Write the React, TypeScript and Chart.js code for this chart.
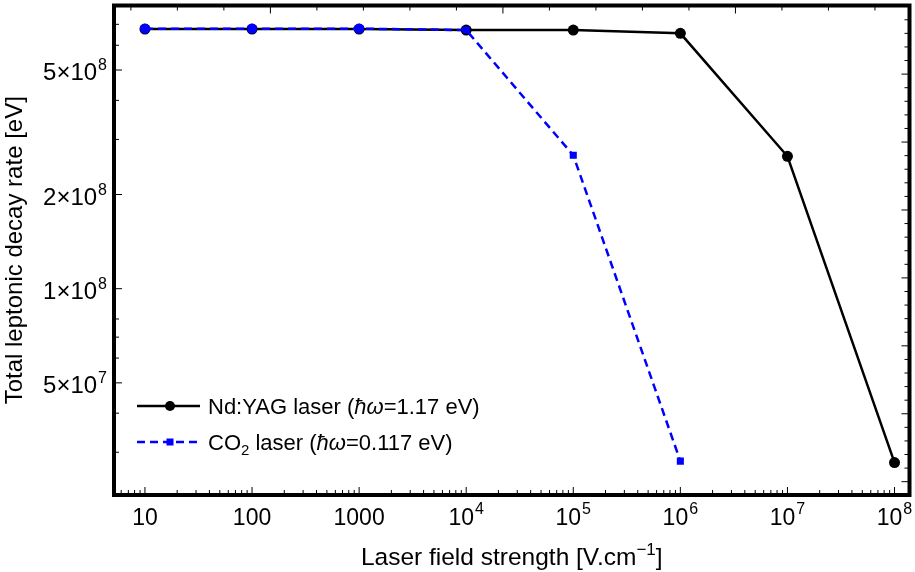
import React, { useEffect, useRef } from 'react';
import { Chart, registerables } from 'chart.js';

Chart.register(...registerables);

// ---- data ----
const ndYagField = [10, 100, 1000, 1e4, 1e5, 1e6, 1e7, 1e8];
const ndYagRate = [6.76e8, 6.76e8, 6.76e8, 6.71e8, 6.71e8, 6.55e8, 2.65e8, 2.78e7];
const co2Field = [10, 100, 1000, 1e4, 1e5, 1e6];
const co2Rate = [6.78e8, 6.78e8, 6.78e8, 6.71e8, 2.67e8, 2.81e7];

const xTickValues = [10, 100, 1000, 1e4, 1e5, 1e6, 1e7, 1e8];
const xTickBase = ['10', '100', '1000', '10', '10', '10', '10', '10'];
const xTickExp = ['', '', '', '4', '5', '6', '7', '8'];

const yTickValues = [5e8, 2e8, 1e8, 5e7];
const yTickBase = ['5\u00d710', '2\u00d710', '1\u00d710', '5\u00d710'];
const yTickExp = ['8', '8', '8', '7'];
const yMinorValues = [3e7, 4e7, 6e7, 7e7, 8e7, 3e8, 4e8, 6e8, 7e8];

const seriesNames = ['Nd:YAG laser', 'CO2 laser'];
const xTitle = 'Laser field strength [V.cm';
const yTitle = 'Total leptonic decay rate [eV]';

const FONT = '"Liberation Sans", Arial, Helvetica, sans-serif';

function drawSup(ctx: CanvasRenderingContext2D, base: string, exp: string, x: number, y: number, align: 'left' | 'center' | 'right', size: number, supSize: number, rise: number) {
  ctx.font = `${size}px ${FONT}`;
  const wb = ctx.measureText(base).width;
  ctx.font = `${supSize}px ${FONT}`;
  const we = exp ? ctx.measureText(exp).width + 1 : 0;
  const total = wb + we;
  let sx = x;
  if (align === 'center') sx = x - total / 2;
  else if (align === 'right') sx = x - total;
  ctx.textAlign = 'left';
  ctx.textBaseline = 'alphabetic';
  ctx.font = `${size}px ${FONT}`;
  ctx.fillText(base, sx, y);
  if (exp) {
    ctx.font = `${supSize}px ${FONT}`;
    ctx.fillText(exp, sx + wb + 1, y - rise);
  }
}

function drawRuns(ctx: CanvasRenderingContext2D, runs: { t: string; size: number; italic?: boolean; dy?: number }[], x: number, y: number) {
  let cx = x;
  ctx.textAlign = 'left';
  ctx.textBaseline = 'alphabetic';
  for (const r of runs) {
    ctx.font = `${r.italic ? 'italic ' : ''}${r.size}px ${FONT}`;
    ctx.fillText(r.t, cx, y + (r.dy || 0));
    cx += ctx.measureText(r.t).width;
  }
}

const framePlugin = {
  id: 'framePlugin',
  afterDraw(chart: any) {
    const ctx: CanvasRenderingContext2D = chart.ctx;
    const { left, right, top, bottom } = chart.chartArea;
    const xs = chart.scales.x;
    const ys = chart.scales.y;
    ctx.save();
    ctx.fillStyle = '#000';
    ctx.strokeStyle = '#000';

    const tick = (x1: number, y1: number, x2: number, y2: number, w: number) => {
      ctx.lineWidth = w;
      ctx.beginPath();
      ctx.moveTo(x1, y1);
      ctx.lineTo(x2, y2);
      ctx.stroke();
    };
    const MAJ = 8, MIN = 5;
    // bottom x ticks: decades + minor 2..9
    for (let d = 0; d <= 9; d++) {
      for (let m = 1; m <= 9; m++) {
        const v = m * Math.pow(10, d);
        if (v < xs.min || v > xs.max) continue;
        const px = xs.getPixelForValue(v);
        tick(px, bottom, px, bottom - (m === 1 ? MAJ : MIN), 1);
      }
    }
    // top x ticks (natural-log units)
    for (let n = 1; n <= 19; n++) {
      const v = Math.exp(n);
      if (v < xs.min || v > xs.max) continue;
      const px = xs.getPixelForValue(v);
      tick(px, top, px, top + (n % 5 === 0 ? MAJ : MIN), 1);
    }
    // left y ticks
    for (const v of yTickValues) {
      const py = ys.getPixelForValue(v);
      tick(left, py, left + MAJ, py, 1);
    }
    for (const v of yMinorValues) {
      const py = ys.getPixelForValue(v);
      tick(left, py, left + MIN, py, 1);
    }
    // right ticks (natural-log units, step 0.1)
    for (let k = 160; k <= 215; k++) {
      const v = Math.exp(k * 0.1);
      if (v < ys.min || v > ys.max) continue;
      const py = ys.getPixelForValue(v);
      tick(right, py, right - (k % 5 === 0 ? MAJ : MIN), py, 1);
    }

    // frame
    ctx.lineWidth = 4;
    ctx.strokeRect(left, top, right - left, bottom - top);

    // x tick labels
    ctx.fillStyle = '#000';
    xTickValues.forEach((v, i) => {
      const px = xs.getPixelForValue(v);
      drawSup(ctx, xTickBase[i], xTickExp[i], px, bottom + 30, 'center', 23, 16, 11);
    });
    // y tick labels
    yTickValues.forEach((v, i) => {
      const py = ys.getPixelForValue(v);
      drawSup(ctx, yTickBase[i], yTickExp[i], left - 7, py + 10, 'right', 24, 16, 10);
    });

    // x title
    const TS = 24.5, SS = 17;
    ctx.font = `${TS}px ${FONT}`;
    const w1 = ctx.measureText(xTitle).width;
    ctx.font = `${SS}px ${FONT}`;
    const w2 = ctx.measureText('\u22121').width;
    ctx.font = `${TS}px ${FONT}`;
    const w3 = ctx.measureText(']').width;
    const cx = (left + right) / 2;
    const sx = cx - (w1 + w2 + w3) / 2;
    drawRuns(ctx, [
      { t: xTitle, size: TS },
      { t: '\u22121', size: SS, dy: -10 },
      { t: ']', size: TS },
    ], sx, 565);

    // y title
    ctx.save();
    ctx.translate(22, (top + bottom) / 2);
    ctx.rotate(-Math.PI / 2);
    ctx.font = `24px ${FONT}`;
    ctx.textAlign = 'center';
    ctx.textBaseline = 'alphabetic';
    ctx.fillText(yTitle, 0, 0);
    ctx.restore();

    // legend
    const lx1 = 137, lx2 = 200, lmid = 170, ly1 = 406, ly2 = 442;
    ctx.strokeStyle = '#000';
    ctx.lineWidth = 2.5;
    ctx.setLineDash([]);
    ctx.beginPath(); ctx.moveTo(lx1, ly1); ctx.lineTo(lx2, ly1); ctx.stroke();
    ctx.beginPath(); ctx.arc(lmid, ly1, 5, 0, Math.PI * 2); ctx.fill();
    ctx.strokeStyle = '#0000ff';
    ctx.fillStyle = '#0000ff';
    ctx.setLineDash([8, 5]);
    ctx.beginPath(); ctx.moveTo(lx1, ly2); ctx.lineTo(lx2, ly2); ctx.stroke();
    ctx.setLineDash([]);
    ctx.fillRect(lmid - 3.5, ly2 - 3.5, 7, 7);
    ctx.fillStyle = '#000';
    const LS = 22;
    drawRuns(ctx, [
      { t: seriesNames[0] + ' (', size: LS },
      { t: '\u0127\u03c9', size: LS, italic: true },
      { t: '=1.17 eV)', size: LS },
    ], 208, ly1 + 8);
    drawRuns(ctx, [
      { t: 'CO', size: LS },
      { t: '2', size: 15, dy: 5 },
      { t: ' laser (', size: LS },
      { t: '\u0127\u03c9', size: LS, italic: true },
      { t: '=0.117 eV)', size: LS },
    ], 208, ly2 + 8);

    ctx.restore();
  },
};

export default function App() {
  const ref = useRef<HTMLCanvasElement | null>(null);
  useEffect(() => {
    document.body.style.margin = '0';
    const canvas = ref.current;
    if (!canvas) return;
    const chart = new Chart(canvas, {
      type: 'line',
      data: {
        datasets: [
          {
            label: seriesNames[0],
            data: ndYagField.map((x, i) => ({ x, y: ndYagRate[i] })),
            borderColor: '#000',
            backgroundColor: '#000',
            borderWidth: 2.5,
            pointRadius: 5.5,
            pointStyle: 'circle',
            pointBorderWidth: 0,
            tension: 0,
            order: 2,
          },
          {
            label: seriesNames[1],
            data: co2Field.map((x, i) => ({ x, y: co2Rate[i] })),
            borderColor: '#0000ff',
            backgroundColor: '#0000ff',
            borderWidth: 2.5,
            borderDash: [8, 5],
            pointRadius: [5, 5, 5, 5, 5, 5],
            pointStyle: ['circle', 'circle', 'circle', 'rect', 'rect', 'rect'],
            pointBorderWidth: 0,
            tension: 0,
            order: 1,
          },
        ],
      } as any,
      options: {
        responsive: false,
        animation: false,
        devicePixelRatio: 1,
        layout: { padding: { left: 114, top: 2, right: 5, bottom: 77 } },
        plugins: { legend: { display: false }, tooltip: { enabled: false } },
        scales: {
          x: { type: 'logarithmic', min: 5.14, max: 1.38e8, display: false },
          y: { type: 'logarithmic', min: 2.19e7, max: 8.04e8, display: false },
        },
      } as any,
      plugins: [framePlugin],
    });
    return () => chart.destroy();
  }, []);
  return (
    <div style={{ position: 'absolute', left: 0, top: 0, width: 915, height: 572, background: '#fff' }}>
      <canvas ref={ref} width={915} height={572} style={{ display: 'block' }} />
    </div>
  );
}
